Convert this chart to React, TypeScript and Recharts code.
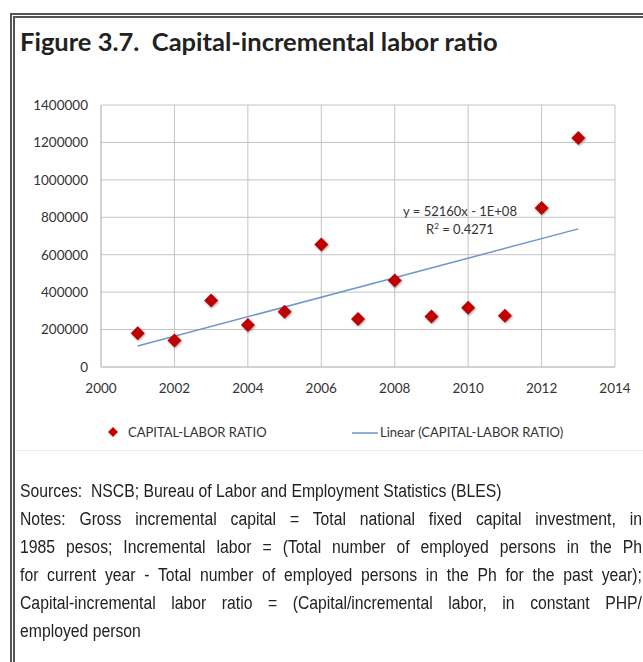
import React from "react";
import { ScatterChart, Scatter, XAxis, YAxis, CartesianGrid } from "recharts";

// values
const years = [2001, 2002, 2003, 2004, 2005, 2006, 2007, 2008, 2009, 2010, 2011, 2012, 2013];
const ratio = [180000, 142000, 355000, 224000, 295000, 654000, 256000, 462000, 270000, 316000, 274000, 850000, 1224000];
const trendYears = [2001, 2013];
const trendValues = [112000, 738000];
const xTicks = [2000, 2002, 2004, 2006, 2008, 2010, 2012, 2014];
const yTicks = [0, 200000, 400000, 600000, 800000, 1000000, 1200000, 1400000];

const notesLines = [
  "Notes: Gross incremental capital = Total national fixed capital investment, in",
  "1985 pesos; Incremental labor = (Total number of employed persons in the Ph",
  "for current year - Total number of employed persons in the Ph for the past year);",
  "Capital-incremental labor ratio = (Capital/incremental labor, in constant PHP/",
];

const points = years.map((year, i) => ({ year, value: ratio[i] }));
const trend = trendYears.map((year, i) => ({ year, value: trendValues[i] }));

const RED = "#c00000";
const BLUE = "#6f97c9";
const GRID = "#c4c4c4";
const axisFont = "Lato, 'Open Sans', sans-serif";
const noteFont = "'Liberation Sans', Arial, sans-serif";
const NARROW = 0.875; // stand-in for Arial Narrow

function Diamond(props: any) {
  const { cx, cy } = props;
  const r = 7;
  return (
    <polygon
      points={`${cx},${cy - r} ${cx + r},${cy} ${cx},${cy + r} ${cx - r},${cy}`}
      fill={RED}
      style={{ filter: "drop-shadow(1px 1px 1px rgba(0,0,0,0.35))" }}
    />
  );
}

export default function App() {
  return (
    <div
      style={{
        position: "fixed",
        left: 0,
        top: 0,
        width: 643,
        height: 662,
        overflow: "hidden",
        background: "#fff",
      }}
    >
      <div
        style={{
          position: "absolute",
          left: 10,
          top: 13,
          width: 700,
          height: 700,
          borderLeft: "5px double #555",
          borderTop: "5px double #555",
        }}
      />
      <div
        style={{
          position: "absolute",
          left: 20,
          top: 26,
          fontFamily: "Lato, sans-serif",
          fontWeight: 700,
          fontSize: 25.5,
          lineHeight: "30px",
          color: "#222",
          whiteSpace: "pre",
        }}
      >
        {"Figure 3.7.  Capital-incremental labor ratio"}
      </div>

      <div style={{ position: "absolute", left: 0, top: 0 }}>
        <ScatterChart
          width={643}
          height={460}
          margin={{ top: 105, right: 28, bottom: 63, left: 11 }}
        >
          <CartesianGrid stroke={GRID} strokeWidth={1} />
          <XAxis
            type="number"
            dataKey="year"
            domain={[2000, 2014]}
            ticks={xTicks}
            tickLine={false}
            axisLine={{ stroke: GRID }}
            tickSize={0}
            tickMargin={16}
            height={30}
            tick={{ fill: "#333", fontSize: 13.5, fontFamily: axisFont }}
          />
          <YAxis
            type="number"
            dataKey="value"
            domain={[0, 1400000]}
            ticks={yTicks}
            tickLine={false}
            axisLine={{ stroke: GRID }}
            tickSize={0}
            tickMargin={13}
            width={90}
            tick={{ fill: "#333", fontSize: 13.5, fontFamily: axisFont }}
          />
          <Scatter
            name="Linear (CAPITAL-LABOR RATIO)"
            data={trend}
            line={{ stroke: BLUE, strokeWidth: 1.5 }}
            shape={() => <g />}
            isAnimationActive={false}
          />
          <Scatter
            name="CAPITAL-LABOR RATIO"
            data={points}
            shape={<Diamond />}
            isAnimationActive={false}
          />
        </ScatterChart>
      </div>

      <div
        style={{
          position: "absolute",
          left: 397,
          top: 202,
          width: 126,
          textAlign: "center",
          fontFamily: axisFont,
          fontSize: 13,
          color: "#333",
          lineHeight: "18px",
        }}
      >
        <div>y = 52160x - 1E+08</div>
        <div>
          R<sup style={{ fontSize: 8, verticalAlign: "top", lineHeight: "12px" }}>2</sup> = 0.4271
        </div>
      </div>

      <div
        style={{
          position: "absolute",
          left: 0,
          top: 424,
          width: 643,
          height: 18,
          fontFamily: axisFont,
          fontSize: 13,
          color: "#333",
        }}
      >
        <svg style={{ position: "absolute", left: 108, top: 3 }} width={10} height={10}>
          <polygon points="5,0 10,5 5,10 0,5" fill={RED} />
        </svg>
        <span style={{ position: "absolute", left: 128, top: 0 }}>CAPITAL-LABOR RATIO</span>
        <svg style={{ position: "absolute", left: 352, top: 7 }} width={26} height={4}>
          <line x1={0} y1={2} x2={26} y2={2} stroke={BLUE} strokeWidth={1.5} />
        </svg>
        <span style={{ position: "absolute", left: 380, top: 0 }}>Linear (CAPITAL-LABOR RATIO)</span>
      </div>
      <div
        style={{
          position: "absolute",
          left: 16,
          top: 450,
          width: 640,
          height: 1,
          background: "#ececec",
        }}
      />

      <div
        style={{
          position: "absolute",
          left: 20,
          top: 477,
          width: 622 / NARROW,
          transform: `scaleX(${NARROW})`,
          transformOrigin: "0 0",
          fontFamily: noteFont,
          fontSize: 18,
          lineHeight: "28px",
          color: "#222",
        }}
      >
        <div style={{ whiteSpace: "pre" }}>{"Sources:  NSCB; Bureau of Labor and Employment Statistics (BLES)"}</div>
        {notesLines.map((line) => (
          <div
            key={line}
            style={{ whiteSpace: "nowrap", textAlign: "justify", textAlignLast: "justify" }}
          >
            {line}
          </div>
        ))}
        <div>employed person</div>
      </div>
    </div>
  );
}
